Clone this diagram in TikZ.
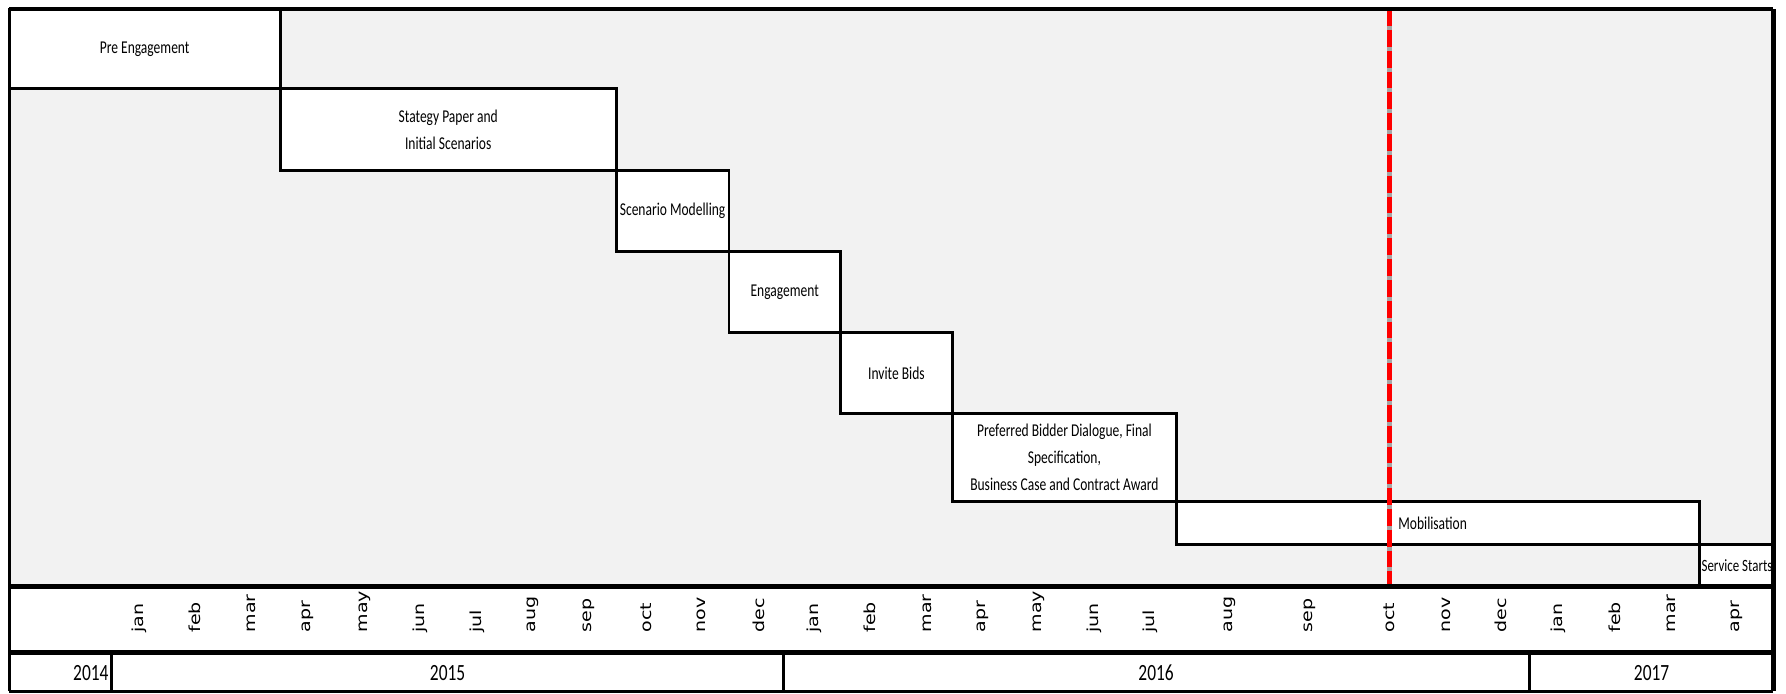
\documentclass[tikz,border=0pt]{standalone}
\usepackage{fontspec}
\newfontfamily\barfont[FakeStretch=0.75]{Carlito}
\newfontfamily\monthfont[FakeStretch=1.25]{DejaVu Sans}
\definecolor{chartbg}{HTML}{F2F2F2}
\definecolor{todayred}{HTML}{FF0000}

\begin{document}
\begin{tikzpicture}[x=0.01cm, y=-0.01cm,
  every node/.style={inner sep=0pt},
  phase/.style={draw=black, line width=0.7pt, fill=white},
  barlabel/.style={font=\barfont\fontsize{4.5}{6.8}\selectfont, align=center},
  monthlabel/.style={font=\monthfont\fontsize{3.8}{4}\selectfont, rotate=90, anchor=west},
  yearlabel/.style={font=\barfont\fontsize{5.8}{6}\selectfont}]

\def\top{8}
\def\left{8}
\def\right{1557}
\def\gbot{515}   %% bottom of the bar area
\def\mbot{573}   %% bottom of the month row
\def\ybot{607}   %% bottom of the year row

\useasboundingbox (0,0) rectangle (1568,609);

%% ── Bar area ──────────────────────────────────────────────────────────────────
\fill[chartbg] (\left,\top) rectangle (\right,\gbot);

%% Pre Engagement: jan 2014 - mar 2015
\draw[phase] (\left,8) rectangle (246,78);
\node[barlabel] (pre) at (127,43) {Pre Engagement};

%% Strategy paper: apr - sep 2015
\draw[phase] (246,78) rectangle (541,150);
\node[barlabel] (strategy) at (393.5,114) {Stategy Paper and\\Initial Scenarios};

%% Scenario modelling: oct - nov 2015
\draw[phase] (541,150) rectangle (640,221);
\node[barlabel] (scenario) at (590.5,185.5) {Scenario Modelling};

%% Engagement: dec 2015 - jan 2016
\draw[phase] (640,221) rectangle (738,292);
\node[barlabel] (engage) at (689,256.5) {Engagement};

%% Invite bids: feb - mar 2016
\draw[phase] (738,292) rectangle (836,363);
\node[barlabel] (bids) at (787,327.5) {Invite Bids};

%% Preferred bidder: apr - jul 2016
\draw[phase] (836,363) rectangle (1033,440);
\node[barlabel] (bidder) at (934.5,401.5)
  {Preferred Bidder Dialogue, Final\\Specification,\\Business Case and Contract Award};

%% Mobilisation: aug 2016 - mar 2017
\draw[phase] (1033,440) rectangle (1492,478);

%% Service starts: apr 2017
\draw[phase] (1492,478) rectangle (\right,\gbot);
\node[barlabel, font=\barfont\fontsize{4.3}{5}\selectfont] (service) at (1525,497) {Service Starts};

%% ── Today marker (oct 2016) ──────────────────────────────────────────────────
\draw[gray!70, line width=1.25pt] (1220,\top) -- (1220,\gbot);
\draw[todayred, line width=1.25pt, dash pattern=on 4.2pt off 1pt]
  (1220,\top) -- (1220,\gbot);
\node[barlabel, anchor=west] (mobil) at (1227,459) {Mobilisation};

%% ── Month row ────────────────────────────────────────────────────────────────
\foreach \m/\x [count=\i] in {jan/122, feb/171, mar/221, apr/270, may/320,
    jun/369, jul/419, aug/468, sep/517, oct/567, nov/616, dec/666,
    jan/715, feb/764, mar/814, apr/863, may/912, jun/961, jul/1010,
    aug/1080, sep/1150, oct/1220, nov/1270, dec/1318,
    jan/1368, feb/1418, mar/1467, apr/1525}{
  \node[monthlabel] (month\i) at (\x,556) {\m};
}

%% ── Year row ─────────────────────────────────────────────────────────────────
\node[yearlabel, anchor=east] (y2014) at (96,591) {2014};
\node[yearlabel] (y2015) at (393,591) {2015};
\node[yearlabel] (y2016) at (1015,591) {2016};
\node[yearlabel] (y2017) at (1450,591) {2017};
\foreach \x in {98,688,1343}
  \draw[line width=0.8pt] (\x,\mbot) -- (\x,\ybot);

%% ── Frame ────────────────────────────────────────────────────────────────────
\draw[line width=1pt] (\left,\top) -- (\right,\top);
\draw[line width=1.4pt] (\left,\gbot) -- (\right,\gbot);
\draw[line width=1.1pt] (\left,\mbot) -- (\right,\mbot);
\draw[line width=0.8pt] (\left,\ybot) -- (\right,\ybot);
\draw[line width=0.7pt] (\left,\top) -- (\left,\ybot);
\draw[line width=1.1pt] (\right,\top) -- (\right,\ybot);

\end{tikzpicture}
\end{document}
